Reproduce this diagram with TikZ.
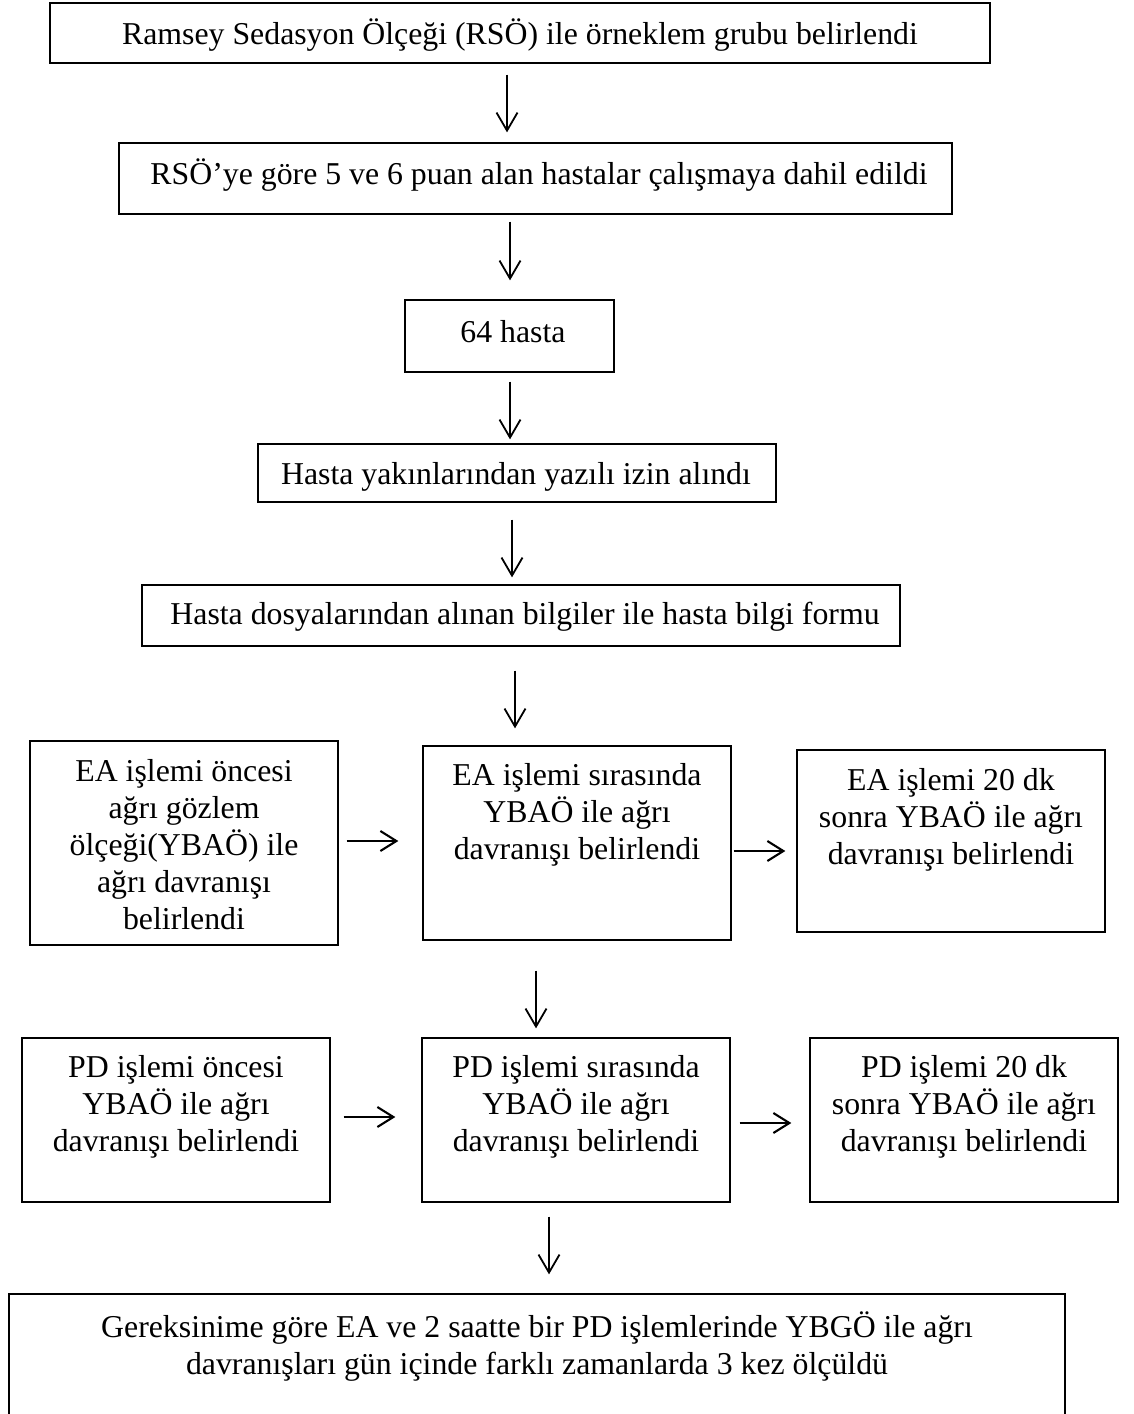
\documentclass[tikz,border=0pt]{standalone}
\usepackage{fontspec}
\setmainfont{Liberation Serif}
\usetikzlibrary{arrows.meta}
\begin{document}
\begin{tikzpicture}[x=1pt,y=-1pt,
  box/.style={draw=black,line width=1.3pt,inner sep=0pt,rectangle},
  txt/.style={inner sep=0pt,align=center,font=\fontsize{31.8}{37}\selectfont},
  varr/.style={line width=1.8pt,-{Straight Barb[length=18pt,width=21pt,line width=1.8pt]}},
  harr/.style={line width=2.3pt,-{Straight Barb[length=16pt,width=20pt,line width=2.1pt]}}]
\useasboundingbox (0,0) rectangle (1134,1414);
\fill[white] (0,0) rectangle (1134,1414);
% boxes
\node[box,minimum width=940pt,minimum height=60pt] (b1) at (520,33) {};
\node[box,minimum width=833pt,minimum height=71pt] (b2) at (535.5,178.5) {};
\node[box,minimum width=209pt,minimum height=72pt] (b3) at (509.5,336) {};
\node[box,minimum width=518pt,minimum height=58pt] (b4) at (517,473) {};
\node[box,minimum width=758pt,minimum height=61pt] (b5) at (521,615.5) {};
\node[box,minimum width=308pt,minimum height=204pt] (ea1) at (184,843) {};
\node[box,minimum width=308pt,minimum height=194pt] (ea2) at (577,843) {};
\node[box,minimum width=308pt,minimum height=182pt] (ea3) at (951,841) {};
\node[box,minimum width=308pt,minimum height=164pt] (pd1) at (176,1120) {};
\node[box,minimum width=308pt,minimum height=164pt] (pd2) at (576,1120) {};
\node[box,minimum width=308pt,minimum height=164pt] (pd3) at (964,1120) {};
\node[box,minimum width=1056pt,minimum height=136pt] (bot) at (537,1362) {};
% texts
\node[txt] (t1) at (520,35) {Ramsey Sedasyon Ölçeği (RSÖ) ile örneklem grubu belirlendi};
\node[txt] (t2) at (539,175) {RSÖ’ye göre 5 ve 6 puan alan hastalar çalışmaya dahil edildi};
\node[txt] (t3) at (513,332) {64 hasta};
\node[txt] (t4) at (516,477) {Hasta yakınlarından yazılı izin alındı};
\node[txt] (t5) at (525,617) {Hasta dosyalarından alınan bilgiler ile hasta bilgi formu};
\node[txt] (tea1) at (184,845) {EA işlemi öncesi\\ağrı gözlem\\ölçeği(YBAÖ) ile\\ağrı davranışı\\belirlendi};
\node[txt] (tea2) at (577,815) {EA işlemi sırasında\\YBAÖ ile ağrı\\davranışı belirlendi};
\node[txt] (tea3) at (951,820) {EA işlemi 20 dk\\sonra YBAÖ ile ağrı\\davranışı belirlendi};
\node[txt] (tpd1) at (176,1107) {PD işlemi öncesi\\YBAÖ ile ağrı\\davranışı belirlendi};
\node[txt] (tpd2) at (576,1107) {PD işlemi sırasında\\YBAÖ ile ağrı\\davranışı belirlendi};
\node[txt] (tpd3) at (964,1107) {PD işlemi 20 dk\\sonra YBAÖ ile ağrı\\davranışı belirlendi};
\node[txt] (tbot) at (537,1347) {Gereksinime göre EA ve 2 saatte bir PD işlemlerinde YBGÖ ile ağrı\\davranışları gün içinde farklı zamanlarda 3 kez ölçüldü};
% vertical arrows
\draw[varr] ([shift={(-13,11)}]b1.south) -- ([shift={(-28.5,-10)}]b2.north);
\draw[varr] ([shift={(-25.5,7)}]b2.south) -- ([shift={(0.5,-19)}]b3.north);
\draw[varr] ([shift={(0.5,9)}]b3.south) -- ([shift={(-7,-4)}]b4.north);
\draw[varr] ([shift={(-5,17)}]b4.south) -- ([shift={(-9,-7)}]b5.north);
\draw[varr] ([shift={(-6,24)}]b5.south) -- ([shift={(-62,-17)}]ea2.north);
\draw[varr] ([shift={(-41,30)}]ea2.south) -- ([shift={(-40,-9)}]pd2.north);
\draw[varr] ([shift={(-27,14)}]pd2.south) -- ([shift={(12,-19)}]bot.north);
% horizontal arrows
\draw[harr] ([shift={(8,-2)}]ea1.east) -- ([shift={(-24,-2)}]ea2.west);
\draw[harr] ([shift={(2,8)}]ea2.east) -- ([shift={(-11,10)}]ea3.west);
\draw[harr] ([shift={(13,-3)}]pd1.east) -- ([shift={(-26,-3)}]pd2.west);
\draw[harr] ([shift={(9,3)}]pd2.east) -- ([shift={(-18,3)}]pd3.west);
\end{tikzpicture}
\end{document}
